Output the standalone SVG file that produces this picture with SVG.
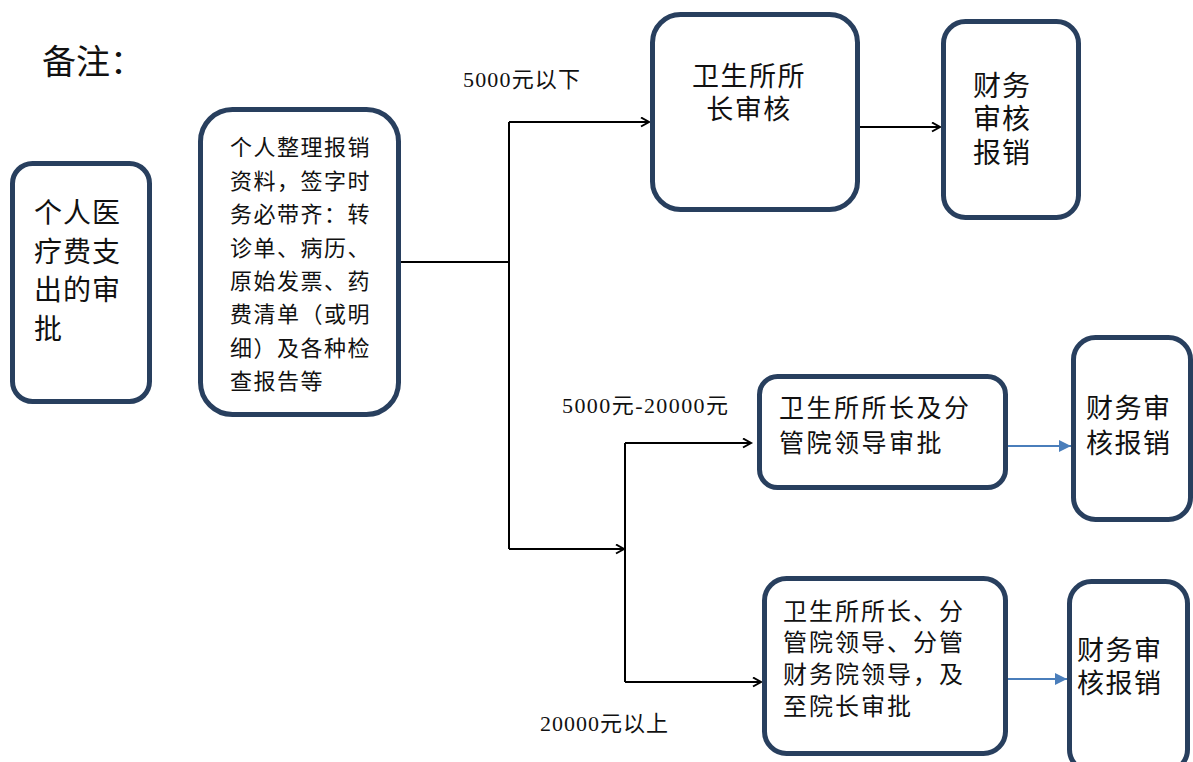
<svg xmlns="http://www.w3.org/2000/svg" width="1193" height="762" viewBox="0 0 1193 762">
<defs>
<style>
.box{fill:#fff;stroke:#283f5e;stroke-width:5}
.t{font-family:"Noto Sans CJK SC","Liberation Sans",sans-serif;fill:#111}
.lab{font-family:"Liberation Serif","Noto Sans CJK SC",serif;font-size:22px;fill:#111}
.c{fill:none;stroke:#000;stroke-width:2}
.b{fill:none;stroke:#4a7ebb;stroke-width:2}
</style>
<marker id="ah" markerUnits="userSpaceOnUse" markerWidth="12" markerHeight="12" refX="9" refY="5" orient="auto">
<path d="M1,0.5 L9,5 L1,9.5" fill="none" stroke="#000" stroke-width="2"/>
</marker>
<marker id="bh" markerUnits="userSpaceOnUse" markerWidth="14" markerHeight="14" refX="12" refY="6" orient="auto">
<path d="M0,0 L12,6 L0,12 z" fill="#4a7ebb"/>
</marker>
</defs>
<rect width="1193" height="762" fill="#fff"/>
<text class="t" x="42" y="74" font-size="34">备注：</text>
<g id="connectors">
<path class="c" d="M401 262 H509"/>
<path class="c" d="M509 122 V549"/>
<path class="c" d="M509 122 H649" marker-end="url(#ah)"/>
<path class="c" d="M509 549 H624" marker-end="url(#ah)"/>
<path class="c" d="M625 443 V682"/>
<path class="c" d="M625 443 H751" marker-end="url(#ah)"/>
<path class="c" d="M625 682 H761" marker-end="url(#ah)"/>
<path class="c" d="M860 127 H940" marker-end="url(#ah)"/>
<path class="b" d="M1008 446 H1071" marker-end="url(#bh)"/>
<path class="b" d="M1008 679 H1067" marker-end="url(#bh)"/>
<text class="lab" x="463" y="87" textLength="117" lengthAdjust="spacing">5000元以下</text>
<text class="lab" x="562" y="413" textLength="166" lengthAdjust="spacing">5000元-20000元</text>
<text class="lab" x="540" y="731" textLength="128" lengthAdjust="spacing">20000元以上</text>
</g>
<g id="n1">
<rect class="box" x="12.5" y="163.5" width="137" height="238" rx="20"/>
<text class="t" font-size="28" letter-spacing="1">
<tspan x="34" y="223">个人医</tspan><tspan x="34" y="262">疗费支</tspan><tspan x="34" y="300">出的审</tspan><tspan x="34" y="339">批</tspan>
</text>
</g>
<g id="n2">
<rect class="box" x="200.5" y="109.5" width="198" height="305" rx="32"/>
<text class="t" font-size="22" letter-spacing="1.5">
<tspan x="230" y="155">个人整理报销</tspan><tspan x="230" y="189">资料，签字时</tspan><tspan x="230" y="222">务必带齐：转</tspan><tspan x="230" y="256">诊单、病历、</tspan><tspan x="230" y="289">原始发票、药</tspan><tspan x="230" y="322">费清单（或明</tspan><tspan x="230" y="356">细）及各种检</tspan><tspan x="230" y="389">查报告等</tspan>
</text>
</g>
<g id="n3">
<rect class="box" x="652.5" y="14.5" width="205" height="195" rx="28"/>
<text class="t" font-size="27" letter-spacing="1.5" text-anchor="middle">
<tspan x="749" y="86">卫生所所</tspan><tspan x="749" y="119">长审核</tspan>
</text>
</g>
<g id="n4">
<rect class="box" x="943.5" y="21.5" width="135" height="196" rx="22"/>
<text class="t" font-size="28" letter-spacing="1">
<tspan x="973" y="96">财务</tspan><tspan x="973" y="129">审核</tspan><tspan x="973" y="163">报销</tspan>
</text>
</g>
<g id="n5">
<rect class="box" x="759.5" y="376.5" width="246" height="111" rx="18"/>
<text class="t" font-size="25" letter-spacing="2.5">
<tspan x="779" y="417">卫生所所长及分</tspan><tspan x="779" y="452">管院领导审批</tspan>
</text>
</g>
<g id="n6">
<rect class="box" x="1073.5" y="337.5" width="117" height="182" rx="22"/>
<text class="t" font-size="27" letter-spacing="1.5">
<tspan x="1086" y="418">财务审</tspan><tspan x="1086" y="453">核报销</tspan>
</text>
</g>
<g id="n7">
<rect class="box" x="764.5" y="578.5" width="241" height="175" rx="22"/>
<text class="t" font-size="24" letter-spacing="2">
<tspan x="783" y="620">卫生所所长、分</tspan><tspan x="783" y="651">管院领导、分管</tspan><tspan x="783" y="683">财务院领导，及</tspan><tspan x="783" y="715">至院长审批</tspan>
</text>
</g>
<g id="n8">
<rect class="box" x="1069.5" y="581.5" width="118" height="190" rx="22"/>
<text class="t" font-size="27" letter-spacing="1.5">
<tspan x="1077" y="660">财务审</tspan><tspan x="1077" y="693">核报销</tspan>
</text>
</g>
</svg>
